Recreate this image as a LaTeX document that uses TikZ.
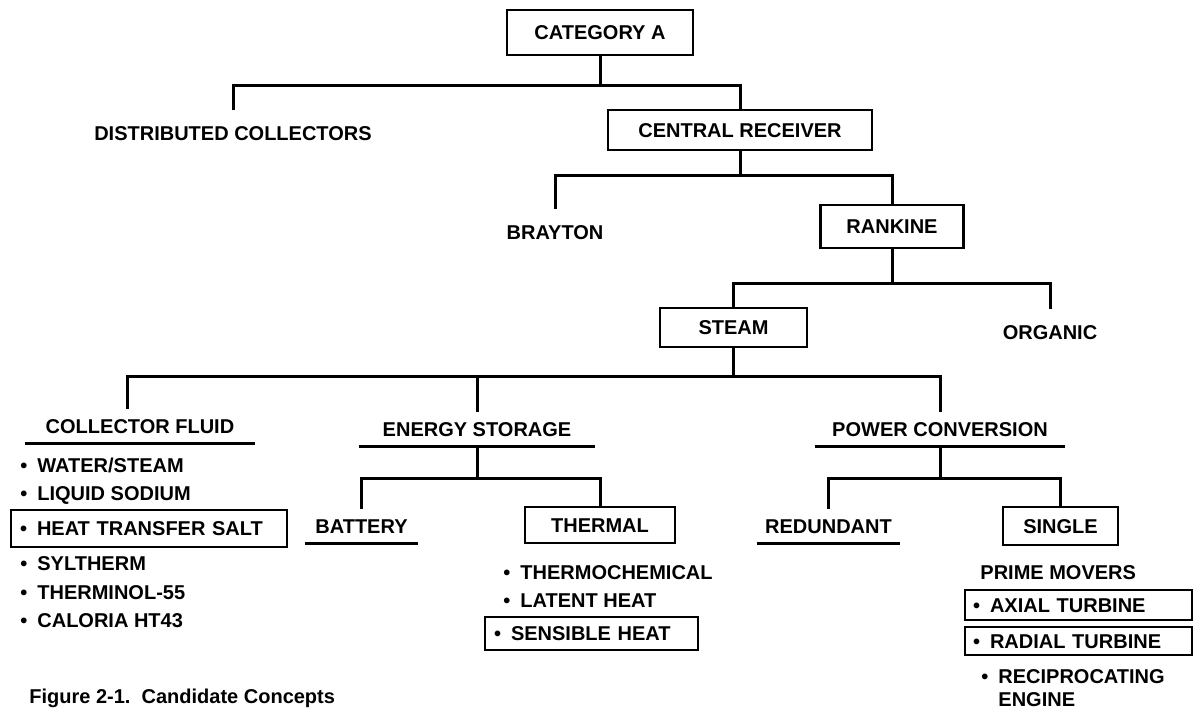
\documentclass[tikz,border=0pt]{standalone}
\usepackage{fontspec}
\setmainfont{Liberation Sans}
\newcommand{\bul}{•\hspace{5pt}}
\tikzset{
  basefont/.style={font=\fontsize{10pt}{11.5pt}\selectfont\bfseries},
  base/.style={basefont, text height=7.2pt, text depth=0pt},
  boxnode/.style={base, draw, line width=1.1pt, inner sep=0pt},
  lab/.style={base, inner xsep=0pt, inner ysep=7.5pt},
  ulab/.style={base, inner xsep=0pt, inner ysep=4.9pt},
  item/.style={base, inner sep=0pt, anchor=west},
  itembox/.style={base, draw, line width=1.1pt, align=left, inner ysep=0pt},
  conn/.style={line width=1.5pt},
  uline/.style={line width=1.3pt}
}
\begin{document}
\begin{tikzpicture}[x=0.5pt,y=-0.5pt]
\useasboundingbox (0,0) rectangle (1194,708);

% --- nodes ---
\node[boxnode, minimum width=93pt, minimum height=22.5pt] (catA) at (600,32.5) {CATEGORY A};
\node[lab] (dc) at (233,133) {DISTRIBUTED COLLECTORS};
\node[boxnode, minimum width=132pt, minimum height=20pt] (cr) at (740,130) {CENTRAL RECEIVER};
\node[lab] (bray) at (555,232) {BRAYTON};
\node[boxnode, minimum width=71.5pt, minimum height=21.5pt] (rank) at (892,226.5) {RANKINE};
\node[boxnode, minimum width=73.5pt, minimum height=19.5pt] (steam) at (733.5,327.5) {STEAM};
\node[lab] (org) at (1050,332) {ORGANIC};

\node[ulab, minimum width=115pt] (cf) at (140,426) {COLLECTOR FLUID};
\node[ulab, minimum width=117.5pt] (es) at (477,429) {ENERGY STORAGE};
\node[ulab, minimum width=125pt] (pc) at (940,429) {POWER CONVERSION};
\node[ulab, minimum width=56.5pt] (bat) at (361.5,526) {BATTERY};
\node[boxnode, minimum width=75pt, minimum height=18pt] (thermal) at (600,525) {THERMAL};
\node[ulab, minimum width=71.5pt] (red) at (828.5,526) {REDUNDANT};
\node[boxnode, minimum width=57.5pt, minimum height=19pt] (single) at (1060.5,526) {SINGLE};

% underlines
\draw[uline] (cf.south west) -- (cf.south east);
\draw[uline] (es.south west) -- (es.south east);
\draw[uline] (pc.south west) -- (pc.south east);
\draw[uline] (bat.south west) -- (bat.south east);
\draw[uline] (red.south west) -- (red.south east);

% collector fluid list
\node[item] (wat) at (20,465) {\bul WATER/STEAM};
\node[item] (liq) at (20,493) {\bul LIQUID SODIUM};
\node[itembox, text width=129pt, inner xsep=4.5pt, minimum height=18.5pt] (hts) at (149,528.5) {\bul HEAT TRANSFER SALT};
\node[item] (syl) at (20,563) {\bul SYLTHERM};
\node[item] (thn) at (20,592) {\bul THERMINOL-55};
\node[item] (cal) at (20,620) {\bul CALORIA HT43};

% thermal list
\node[item] (tc) at (503,572) {\bul THERMOCHEMICAL};
\node[item] (lat) at (503,600) {\bul LATENT HEAT};
\node[itembox, text width=97.5pt, inner xsep=4.5pt, minimum height=16.5pt] (sens) at (591.5,633.5) {\bul SENSIBLE HEAT};

% prime movers
\node[item] (pm) at (980,572) {PRIME MOVERS};
\node[itembox, text width=105.5pt, inner xsep=4pt, minimum height=15pt] (ax) at (1078.5,605) {\bul AXIAL TURBINE};
\node[itembox, text width=105.5pt, inner xsep=4pt, minimum height=14pt] (rad) at (1078.5,641) {\bul RADIAL TURBINE};
\node[basefont, align=left, inner sep=0pt, anchor=base west] (rec) at (981,706) {\bul RECIPROCATING\\\hphantom{\bul}ENGINE};

% caption
\node[font=\fontsize{10pt}{12pt}\selectfont\bfseries, inner sep=0pt, anchor=base west] (cap) at (29,703) {Figure 2-1.\ \ Candidate Concepts};

% --- connectors ---
\coordinate (b1) at (0,85);
\coordinate (b2) at (0,175);
\coordinate (b3) at (0,283);
\coordinate (b4) at (0,376);
\coordinate (b5) at (0,478);

\draw[conn] (catA.south) -- (catA.south |- b1);
\draw[conn] (dc.north) |- (cr.north |- b1) -- (cr.north);

\draw[conn] (cr.south) -- (cr.south |- b2);
\draw[conn] (bray.north) |- (rank.north |- b2) -- (rank.north);

\draw[conn] (rank.south) -- (rank.south |- b3);
\draw[conn] (steam.north) |- (org.north |- b3) -- (org.north);

\draw[conn] (steam.south) -- (steam.south |- b4);
\draw[conn] ([xshift=-6.5pt]cf.north) |- (pc.north |- b4) -- (pc.north);
\draw[conn] (es.north) -- (es.north |- b4);

\draw[conn] (es.south) -- (es.south |- b5);
\draw[conn] (bat.north) |- (thermal.north |- b5) -- (thermal.north);

\draw[conn] (pc.south) -- (pc.south |- b5);
\draw[conn] (red.north) |- (single.north |- b5) -- (single.north);
\end{tikzpicture}
\end{document}
